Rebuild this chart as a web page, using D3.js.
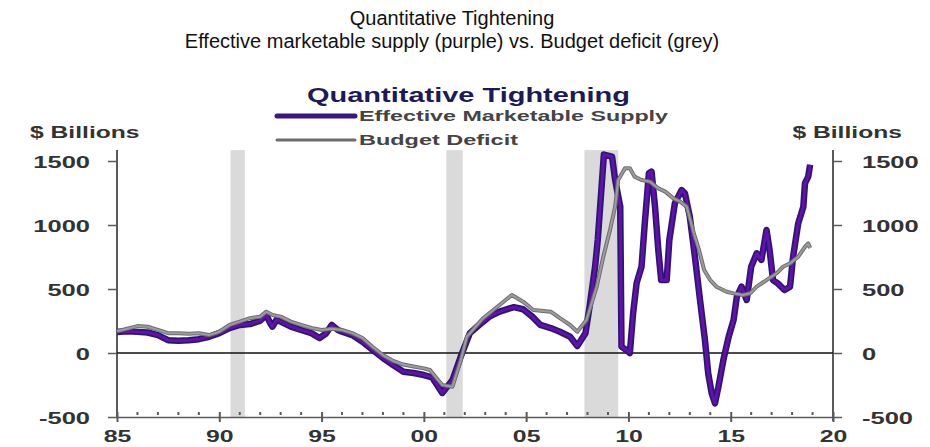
<!DOCTYPE html>
<html>
<head>
<meta charset="utf-8">
<script src="https://cdn.jsdelivr.net/npm/d3@7"></script>
<style>
  body { margin: 0; background: #fff; }
  svg { display: block; font-family: "Liberation Sans", Arial, sans-serif; }
  .axis path, .axis line { stroke: #5a5a5a; }
  .axis text { font-weight: bold; font-size: 17px; fill: #333; }
</style>
</head>
<body>
<div id="chart"></div>
<script>
const width = 930, height = 447

// effective marketable supply (purple), $bn
const mktYears = [1985, 1985.5, 1986, 1986.5, 1987, 1987.5, 1988, 1988.5, 1989, 1989.5, 1990, 1990.5, 1991, 1991.5, 1992, 1992.3, 1992.5, 1992.6, 1992.8, 1993, 1993.5, 1994, 1994.5, 1994.9, 1995.2, 1995.5, 1995.8, 1996, 1996.5, 1997, 1997.5, 1998, 1998.5, 1999, 1999.5, 2000, 2000.4, 2000.9, 2001.4, 2001.8, 2002.25, 2002.7, 2003.2, 2003.7, 2004.2, 2004.4, 2004.85, 2005.3, 2005.7, 2006.2, 2006.65, 2007.15, 2007.5, 2007.9, 2008.1, 2008.37, 2008.5, 2008.7, 2008.8, 2009.2, 2009.35, 2009.6, 2009.66, 2010, 2010.07, 2010.23, 2010.4, 2010.64, 2010.8, 2011, 2011.13, 2011.3, 2011.46, 2011.6, 2011.87, 2012, 2012.27, 2012.6, 2012.76, 2013, 2013.25, 2013.5, 2013.74, 2013.9, 2014.07, 2014.23, 2014.4, 2014.64, 2014.9, 2015.14, 2015.3, 2015.53, 2015.78, 2016, 2016.27, 2016.5, 2016.75, 2016.9, 2017.07, 2017.3, 2017.63, 2017.9, 2018.05, 2018.3, 2018.55, 2018.63, 2018.79, 2018.88]
const mktValues = [164, 170, 165, 160, 140, 100, 96, 100, 108, 127, 155, 195, 219, 226, 253, 297, 230, 206, 260, 245, 206, 180, 155, 117, 150, 219, 180, 166, 140, 88, 23, -39, -94, -146, -156, -172, -190, -312, -211, -29, 155, 219, 284, 323, 349, 358, 342, 284, 219, 195, 166, 127, 55, 155, 362, 674, 883, 1326, 1550, 1534, 1352, 1143, 49, 10, 0, 312, 546, 674, 1014, 1404, 1417, 1143, 805, 570, 570, 883, 1170, 1273, 1248, 1065, 752, 414, 102, -159, -315, -393, -263, -55, 127, 258, 440, 518, 414, 674, 779, 727, 961, 805, 570, 544, 492, 518, 752, 1013, 1143, 1326, 1378, 1470]

// budget deficit (grey), $bn
const defYears = [1985, 1985.5, 1986, 1986.5, 1987, 1987.5, 1988, 1988.5, 1989, 1989.5, 1990, 1990.5, 1991, 1991.5, 1992, 1992.3, 1992.6, 1993, 1993.5, 1994, 1994.5, 1995, 1995.5, 1996, 1996.5, 1997, 1997.5, 1998, 1998.5, 1999, 1999.5, 2000, 2000.3, 2000.9, 2001.4, 2001.8, 2002.1, 2002.9, 2003.7, 2004.3, 2004.85, 2005.35, 2006.2, 2006.65, 2007.15, 2007.5, 2007.95, 2008.45, 2008.77, 2009.1, 2009.35, 2009.5, 2009.83, 2010.07, 2010.3, 2010.64, 2011.05, 2011.46, 2011.8, 2012.2, 2012.53, 2012.85, 2013.2, 2013.45, 2013.7, 2014, 2014.3, 2014.8, 2015.14, 2015.6, 2015.95, 2016.27, 2016.75, 2017.24, 2017.56, 2017.9, 2018.3, 2018.63, 2018.79, 2018.88]
const defValues = [170, 190, 210, 205, 180, 155, 155, 150, 155, 140, 166, 219, 245, 272, 284, 323, 297, 284, 245, 219, 195, 180, 190, 180, 155, 117, 47, -16, -62, -90, -105, -120, -133, -250, -263, -60, 127, 272, 375, 453, 401, 336, 323, 272, 219, 166, 258, 518, 752, 961, 1143, 1352, 1443, 1443, 1378, 1352, 1339, 1286, 1261, 1208, 1183, 1143, 935, 805, 649, 570, 518, 479, 466, 453, 466, 518, 570, 622, 674, 700, 752, 830, 856, 820]

// recession bands [start, end]
const recessions = [[1990.55, 1991.25], [2001.1, 2001.9], [2007.85, 2009.5]]

const yTicks = [-500, 0, 500, 1000, 1500]
const xTicks = [1985, 1990, 1995, 2000, 2005, 2010, 2015, 2020]
const minorTicks = d3.range(1985, 2021)

const svg = d3.select("#chart").append("svg")
  .attr("width", width)
  .attr("height", height)

var x = d3.scaleLinear().domain([1985, 2020]).range([117, 833])
var y = d3.scaleLinear().domain([-500, 1500]).range([417, 161])
const topY = y(1585)

// widen text horizontally like the stretched original
function stretch(sel, k) {
  sel.each(function () {
    const n = this.getComputedTextLength()
    d3.select(this).attr("textLength", n * k).attr("lengthAdjust", "spacingAndGlyphs")
  })
}

// page titles
svg.append("text")
  .attr("x", 452).attr("y", 25)
  .attr("text-anchor", "middle")
  .style("font-size", "20px").style("fill", "#111")
  .text("Quantitative Tightening")
svg.append("text")
  .attr("x", 452).attr("y", 48)
  .attr("text-anchor", "middle")
  .style("font-size", "20px").style("fill", "#111")
  .text("Effective marketable supply (purple) vs. Budget deficit (grey)")

// recession shading
svg.selectAll(".rec").data(recessions).enter()
  .append("rect")
  .attr("class", "rec")
  .attr("x", d => x(d[0]))
  .attr("width", d => x(d[1]) - x(d[0]))
  .attr("y", topY)
  .attr("height", y(-500) - topY)
  .style("fill", "#dadada")

// left axis
var yLeft = svg.append("g")
  .attr("class", "axis")
  .attr("transform", `translate(${x(1985)},0)`)
  .call(d3.axisLeft(y).tickValues(yTicks).tickSize(9).tickPadding(18).tickSizeOuter(0).tickFormat(d => String(d)))
yLeft.select(".domain").remove()
yLeft.selectAll(".tick line").style("stroke-width", 1.5)
yLeft.selectAll("text").attr("dy", "0.36em").call(stretch, 1.5)

var yRight = svg.append("g")
  .attr("class", "axis")
  .attr("transform", `translate(${x(2020)},0)`)
  .call(d3.axisRight(y).tickValues(yTicks).tickSize(9).tickPadding(20).tickSizeOuter(0).tickFormat(d => String(d)))
yRight.select(".domain").remove()
yRight.selectAll(".tick line").style("stroke-width", 1.5)
yRight.selectAll("text").attr("dy", "0.36em").call(stretch, 1.5)

// vertical axis lines
svg.append("line")
  .attr("x1", x(1985)).attr("x2", x(1985))
  .attr("y1", topY).attr("y2", y(-500))
  .style("stroke", "#5a5a5a").style("stroke-width", 2)
svg.append("line")
  .attr("x1", x(2020)).attr("x2", x(2020))
  .attr("y1", topY).attr("y2", y(-500) + 4)
  .style("stroke", "#5a5a5a").style("stroke-width", 2)

// $ Billions labels
svg.append("text")
  .attr("x", 30).attr("y", 138)
  .style("font-weight", "bold").style("font-size", "17px").style("fill", "#333")
  .text("$ Billions")
  .call(stretch, 1.45)
svg.append("text")
  .attr("x", 902).attr("y", 138)
  .attr("text-anchor", "end")
  .style("font-weight", "bold").style("font-size", "17px").style("fill", "#333")
  .text("$ Billions")
  .call(stretch, 1.45)

// bottom axis
var xAxis = svg.append("g")
  .attr("class", "axis")
  .attr("transform", `translate(0,${y(-500)})`)
  .call(d3.axisBottom(x).tickValues(xTicks).tickSize(5).tickSizeOuter(0)
    .tickFormat(d => String(d % 100).padStart(2, "0")))
xAxis.select(".domain").style("stroke-width", 1.5)
xAxis.selectAll(".tick line").attr("y1", -5).style("stroke-width", 2)
xAxis.selectAll("text")
  .attr("y", 25).attr("dy", 0)
  .style("font-size", "16px")
  .call(stretch, 1.55)

xAxis.selectAll(".minor").data(minorTicks.filter(d => d % 5 != 0)).enter()
  .append("line")
  .attr("class", "minor")
  .attr("x1", d => x(d)).attr("x2", d => x(d))
  .attr("y1", -5).attr("y2", -2)
  .style("stroke", "#5a5a5a").style("stroke-width", 2)

// zero line
svg.append("line")
  .attr("x1", x(1985)).attr("x2", x(2020))
  .attr("y1", y(0)).attr("y2", y(0))
  .style("stroke", "#111").style("stroke-width", 1.5)

// series
const mkt = mktYears.map((d, i) => [d, mktValues[i]])
const def = defYears.map((d, i) => [d, defValues[i]])
var line = d3.line().x(d => x(d[0])).y(d => y(d[1]))

svg.append("path").datum(mkt)
  .attr("d", line)
  .style("fill", "none").style("stroke", "#2c1670").style("stroke-width", 6.5)
  .style("stroke-linejoin", "round")
svg.append("path").datum(mkt)
  .attr("d", line)
  .style("fill", "none").style("stroke", "#6410b0").style("stroke-width", 3)
  .style("stroke-linejoin", "round")

svg.append("path").datum(def)
  .attr("d", line)
  .style("fill", "none").style("stroke", "#6d6d6d").style("stroke-width", 4)
  .style("stroke-linejoin", "round")
svg.append("path").datum(def)
  .attr("d", line)
  .style("fill", "none").style("stroke", "#9c9c9c").style("stroke-width", 2)
  .style("stroke-linejoin", "round")

// inner title and legend
svg.append("text")
  .attr("x", 307).attr("y", 102)
  .style("font-weight", "bold").style("font-size", "20px").style("fill", "#1c1a58")
  .attr("textLength", 323).attr("lengthAdjust", "spacingAndGlyphs")
  .text("Quantitative Tightening")

const legendItems = ["Effective Marketable Supply", "Budget Deficit"]
const legendColors = ["#3a1680", "#6d6d6d"]
const legendWidths = [5, 3]
const legendLens = [309, 159]

var legend = svg.selectAll(".legend").data(legendItems).enter()
  .append("g")
  .attr("class", "legend")
  .attr("transform", (d, i) => `translate(277,${116 + i * 24})`)
legend.append("line")
  .attr("x1", 0).attr("x2", 78)
  .style("stroke", (d, i) => legendColors[i])
  .style("stroke-width", (d, i) => legendWidths[i])
  .style("stroke-linecap", "round")
legend.append("text")
  .attr("x", 82).attr("y", 5)
  .style("font-weight", "bold").style("font-size", "14px").style("fill", "#444")
  .attr("textLength", (d, i) => legendLens[i]).attr("lengthAdjust", "spacingAndGlyphs")
  .text(d => d)
</script>
</body>
</html>
